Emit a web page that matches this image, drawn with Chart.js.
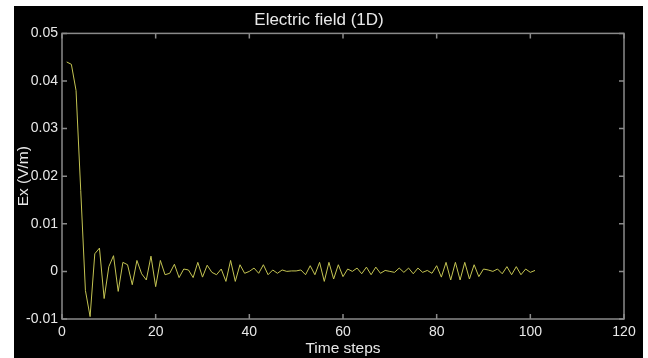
<!DOCTYPE html>
<html>
<head>
<meta charset="utf-8">
<script src="https://cdn.jsdelivr.net/npm/chart.js@4/dist/chart.umd.min.js"></script>
<style>
  html, body { margin: 0; padding: 0; background: #fff; }
  #wrap { position: absolute; left: 14px; top: 6px; width: 629px; height: 352px; background: #000; }
</style>
</head>
<body>
<div id="wrap"><canvas id="efield"></canvas></div>
<script>
// time steps 1..101
const steps = Array.from({ length: 101 }, (_, i) => i + 1);
const ex = [
  0.0440, 0.0435, 0.0380, 0.0170, -0.0040, -0.0095, 0.0037, 0.0049, -0.0057, 0.0010,
  0.0033, -0.0042, 0.0019, 0.0014, -0.0028, 0.0023, -0.0005, -0.0018, 0.0032, -0.0032,
  0.0023, -0.0007, -0.0004, 0.0015, -0.0013, 0.0005, 0.0003, -0.0013, 0.0019, -0.0012,
  0.0013, -0.0002, -0.0007, 0.0005, -0.0021, 0.0023, -0.0021, 0.0014, -0.0004, 0.0000,
  0.0007, -0.0004, 0.0014, -0.0007, 0.0003, -0.0004, 0.0003, 0.0000, 0.0001, 0.0001,
  0.0003, -0.0007, 0.0012, -0.0007, 0.0019, -0.0021, 0.0019, -0.0016, 0.0014, -0.0011,
  0.0005, 0.0000, 0.0007, -0.0005, 0.0009, -0.0007, 0.0009, -0.0004, 0.0002, 0.0000,
  -0.0002, 0.0007, -0.0002, 0.0007, -0.0005, 0.0007, -0.0002, 0.0002, -0.0004, 0.0012,
  -0.0012, 0.0019, -0.0018, 0.0019, -0.0018, 0.0019, -0.0016, 0.0014, -0.0011, 0.0005,
  0.0003, 0.0000, 0.0005, -0.0005, 0.0010, -0.0007, 0.0010, -0.0007, 0.0005, -0.0002,
  0.0002
];
const xTicks = [0, 20, 40, 60, 80, 100, 120];
const yTicks = [-0.01, 0, 0.01, 0.02, 0.03, 0.04, 0.05];

const boxColor = '#8a8a8a';
const textColor = '#e8e8e8';

// axes box with inward tick marks, like matlab
const boxPlugin = {
  id: 'box',
  afterDraw(chart) {
    const { ctx, chartArea: a, scales: { x, y } } = chart;
    const len = 5;
    ctx.save();
    ctx.strokeStyle = boxColor;
    ctx.lineWidth = 1.5;
    ctx.strokeRect(a.left, a.top, a.right - a.left, a.bottom - a.top);
    ctx.beginPath();
    xTicks.forEach(v => {
      const px = x.getPixelForValue(v);
      ctx.moveTo(px, a.bottom); ctx.lineTo(px, a.bottom - len);
      ctx.moveTo(px, a.top); ctx.lineTo(px, a.top + len);
    });
    yTicks.forEach(v => {
      const py = y.getPixelForValue(v);
      ctx.moveTo(a.left, py); ctx.lineTo(a.left + len, py);
      ctx.moveTo(a.right, py); ctx.lineTo(a.right - len, py);
    });
    ctx.stroke();
    ctx.restore();
  }
};

Chart.defaults.font.family = '"Liberation Sans", Arial, sans-serif';
Chart.defaults.color = textColor;

new Chart(document.getElementById('efield'), {
  type: 'line',
  data: {
    labels: steps,
    datasets: [{
      label: 'Ex',
      data: steps.map((t, i) => ({ x: t, y: ex[i] })),
      borderColor: '#c4c452',
      borderWidth: 1,
      pointRadius: 0,
      tension: 0
    }]
  },
  options: {
    responsive: true,
    maintainAspectRatio: false,
    animation: false,
    layout: { padding: { right: 19 } },
    plugins: {
      legend: { display: false },
      tooltip: { enabled: false },
      title: {
        display: true,
        text: 'Electric field (1D)',
        color: textColor,
        font: { size: 17, weight: 'normal' },
        padding: { top: 4, bottom: 3 }
      }
    },
    scales: {
      x: {
        type: 'linear',
        min: 0,
        max: 120,
        afterFit: s => { s.height = 39; },
        afterBuildTicks: s => { s.ticks = xTicks.map(v => ({ value: v })); },
        grid: { display: false, drawTicks: false },
        border: { display: false },
        ticks: { color: textColor, font: { size: 14 }, padding: 5, maxRotation: 0 },
        title: {
          display: true,
          text: 'Time steps',
          color: textColor,
          font: { size: 15.5 },
          padding: { top: 0, bottom: 0 }
        }
      },
      y: {
        type: 'linear',
        min: -0.01,
        max: 0.05,
        afterFit: s => { s.width = 48; },
        afterBuildTicks: s => { s.ticks = yTicks.map(v => ({ value: v })); },
        grid: { display: false, drawTicks: false },
        border: { display: false },
        ticks: {
          color: textColor,
          font: { size: 14 },
          padding: 4,
          callback: v => String(Number(v.toFixed(2)))
        },
        title: {
          display: true,
          text: 'Ex (V/m)',
          color: textColor,
          font: { size: 15.5 },
          padding: { top: 0, bottom: 0 }
        }
      }
    }
  },
  plugins: [boxPlugin]
});
</script>
</body>
</html>
